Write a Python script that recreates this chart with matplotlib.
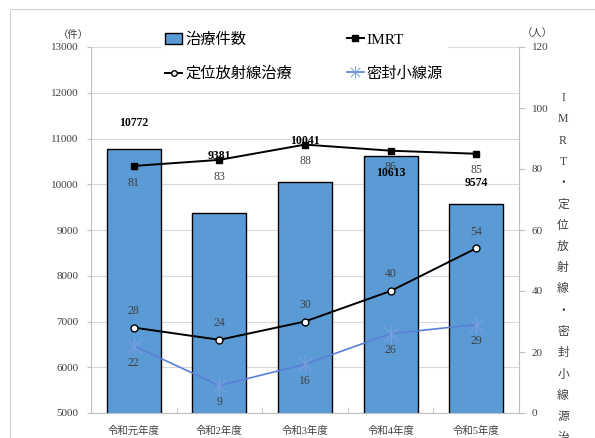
import matplotlib
matplotlib.use("Agg")
import matplotlib.pyplot as plt
from matplotlib.patches import Rectangle
from matplotlib.path import Path
from matplotlib.lines import Line2D

plt.rcParams['font.family'] = ['Liberation Serif', 'Noto Sans CJK JP']

# データ
years = ['令和元年度', '令和2年度', '令和3年度', '令和4年度', '令和5年度']
treat_count = [10772, 9381, 10041, 10613, 9574]
imrt = [81, 83, 88, 86, 85]
stereo = [28, 24, 30, 40, 54]
brachy = [22, 9, 16, 26, 29]
# 棒グラフのラベル位置（棒の上端からのずれ, pt）
bar_label_dy = [19, 41, 30, -12, 15]

fig = plt.figure(figsize=(5.95, 4.38), dpi=100)
ax = fig.add_axes([91 / 595, 1 - 413 / 438, 428 / 595, 366 / 438])
ax2 = ax.twinx()

# 外枠
fig.patches.append(Rectangle((10 / 595, -0.1), 1.2, 1 - 9 / 438 + 0.1,
                             transform=fig.transFigure, fill=False,
                             edgecolor='#D0D0D0', linewidth=0.8))

x = list(range(len(years)))
bars = ax.bar(x, treat_count, width=0.63, color='#5B9BD5', edgecolor='black',
              linewidth=1.0, zorder=2, label='治療件数')
for xi, v, dy in zip(x, treat_count, bar_label_dy):
    ax.annotate(str(v), (xi, v), xytext=(0, dy), textcoords='offset points',
                ha='center', va='center', fontsize=8.5, fontweight='bold',
                color='black', zorder=10)

ax.set_ylim(5000, 13000)
ax.set_yticks(range(5000, 13001, 1000))
ax.set_xlim(-0.5, len(years) - 0.5)
ax.set_xticks(x)
ax.set_xticklabels(years, fontsize=7.5, color='#404040')
ax.set_xticks([i + 0.5 for i in range(len(years) - 1)], minor=True)
ax.tick_params(axis='x', which='major', length=0, pad=9)
ax.tick_params(axis='x', which='minor', direction='in', length=4, color='#BFBFBF')
ax.tick_params(axis='y', labelsize=8, colors='#404040', length=3,
               color='#BFBFBF', pad=6)
ax.grid(axis='y', color='#D9D9D9', linewidth=0.8, zorder=0)
ax.set_axisbelow(True)
for s in ['top', 'right']:
    ax.spines[s].set_visible(False)
for s in ['left', 'bottom']:
    ax.spines[s].set_color('#BFBFBF')

# 右軸
star = Path([(0, -1), (0, 1), (-0.75, -0.75), (0.75, 0.75), (-0.75, 0.75), (0.75, -0.75)],
            [Path.MOVETO, Path.LINETO, Path.MOVETO, Path.LINETO, Path.MOVETO, Path.LINETO])

ax2.plot(x, imrt, color='black', linewidth=1.4, marker='s', markersize=5,
         markerfacecolor='black', zorder=3)
ax2.plot(x, stereo, color='black', linewidth=1.4, marker='o', markersize=5,
         markerfacecolor='white', markeredgecolor='black', zorder=3)
ax2.plot(x, brachy, color='#5A7FD6', linewidth=1.2, marker=star, markersize=14,
         markeredgecolor='#7F9FE0', markeredgewidth=0.7, zorder=3)
for xi, v in zip(x, imrt):
    ax2.annotate(str(v), (xi, v), xytext=(0, -12), textcoords='offset points',
                 ha='center', va='center', fontsize=8.5, color='#404040')
for xi, v in zip(x, stereo):
    ax2.annotate(str(v), (xi, v), xytext=(0, 12), textcoords='offset points',
                 ha='center', va='center', fontsize=8.5, color='#404040')
for xi, v in zip(x, brachy):
    ax2.annotate(str(v), (xi, v), xytext=(0, -12), textcoords='offset points',
                 ha='center', va='center', fontsize=8.5, color='#404040')

ax2.set_ylim(0, 120)
ax2.set_yticks(range(0, 121, 20))
ax2.tick_params(axis='y', labelsize=8, colors='#404040', length=4,
                color='#BFBFBF', pad=5)
for s in ['top', 'left', 'bottom']:
    ax2.spines[s].set_visible(False)
ax2.spines['right'].set_color('#BFBFBF')

# 単位
fig.text(73 / 595, 1 - 35 / 438, '（件）', fontsize=7.5, ha='center', va='center', color='#404040')
fig.text(537 / 595, 1 - 34 / 438, '（人）', fontsize=7.5, ha='center', va='center', color='#404040')

# 右軸タイトル（縦書き）
vlabel = 'IMRT・定位放射線・密封小線源治療件数'
fig.text(563 / 595, 1 - 92 / 438, '\n'.join(vlabel), fontsize=8.5, ha='center',
         va='top', color='#404040', linespacing=2.03)

# 凡例
handles = [
    Rectangle((0, 0), 1, 1, facecolor='#5B9BD5', edgecolor='black', linewidth=1.0),
    Line2D([], [], color='black', linewidth=1.4, marker='o', markersize=4,
           markerfacecolor='white', markeredgecolor='black'),
    Line2D([], [], color='black', linewidth=1.4, marker='s', markersize=4),
    Line2D([], [], color='#5A7FD6', linewidth=1.2, marker=star, markersize=9,
           markeredgecolor='#7F9FE0', markeredgewidth=0.7),
]
labels = ['治療件数', '定位放射線治療', 'IMRT', '密封小線源']
leg = fig.legend(handles, labels, ncol=2, loc='upper left',
                 bbox_to_anchor=(153 / 595, 1 - 20 / 438), fontsize=11,
                 frameon=True, facecolor='white', edgecolor='none', framealpha=1,
                 handlelength=1.1, handletextpad=0.2, columnspacing=3.6,
                 labelspacing=1.3, borderpad=0.3)
leg.set_zorder(20)

fig.savefig('out.png', dpi=100)
